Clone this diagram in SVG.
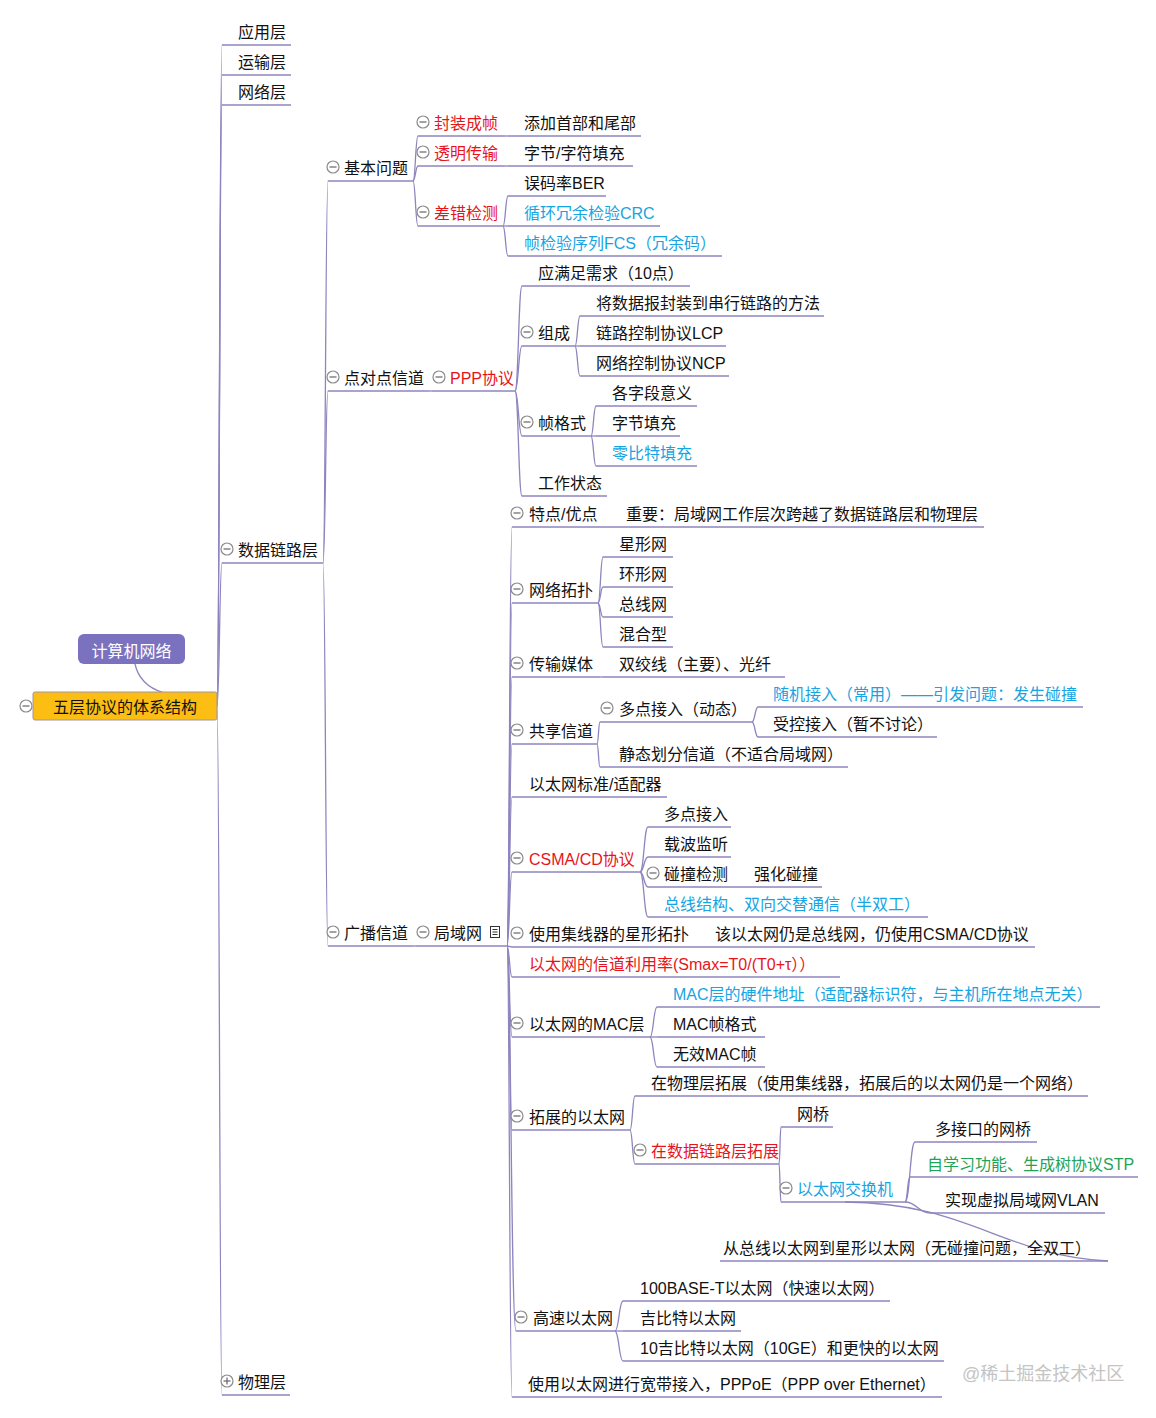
<svg xmlns="http://www.w3.org/2000/svg" width="1156" height="1418" viewBox="0 0 1156 1418">
<style>
text{font-family:"Liberation Sans","Noto Sans CJK SC",sans-serif;font-size:16px;fill:#111}
.r{fill:#E8141B}.b{fill:#17A4E2}.g{fill:#1FA457}
.u{stroke:#8C85BE;stroke-width:1.3;fill:none}
#connectors path{stroke:#8C85BE;stroke-width:1.3;fill:none}
.wm{font-size:18px;fill:#c4c4c4}
</style>
<defs>
<g id="m"><circle r="6" fill="#fff" stroke="#8a8a8a" stroke-width="1.2"/><line x1="-3.5" y1="0" x2="3.5" y2="0" stroke="#666" stroke-width="1.2"/></g>
<g id="p"><circle r="6" fill="#fff" stroke="#8a8a8a" stroke-width="1.2"/><line x1="-3.5" y1="0" x2="3.5" y2="0" stroke="#666" stroke-width="1.2"/><line x1="0" y1="-3.5" x2="0" y2="3.5" stroke="#666" stroke-width="1.2"/></g>
</defs>
<rect width="1156" height="1418" fill="#fff"/>

<g id="connectors">
<path d="M135 664 C138 678 148 688 162 692"/>
<path d="M217 706 C219.5 706 219.5 45 222 45"/>
<path d="M217 706 C219.5 706 219.5 75 222 75"/>
<path d="M217 706 C219.5 706 219.5 105 222 105"/>
<path d="M217 706 C219.5 706 219.5 563 222 563"/>
<path d="M217 706 C219.5 706 219.5 1395 222 1395"/>
<path d="M323 563 C325.5 563 325.5 181 328 181"/>
<path d="M323 563 C325.5 563 325.5 391 328 391"/>
<path d="M323 563 C325.5 563 325.5 946 328 946"/>
<path d="M413 181 C415.5 181 415.5 136 418 136"/>
<path d="M413 181 C415.5 181 415.5 166 418 166"/>
<path d="M413 181 C415.5 181 415.5 226 418 226"/>
<path d="M505 136 L508 136"/>
<path d="M505 166 L508 166"/>
<path d="M503 226 C505.5 226 505.5 196 508 196"/>
<path d="M503 226 L508 226"/>
<path d="M503 226 C505.5 226 505.5 256 508 256"/>
<path d="M429 391 L432 391"/>
<path d="M515 391 C518.5 391 518.5 286 522 286"/>
<path d="M515 391 C518.5 391 518.5 346 522 346"/>
<path d="M515 391 C518.5 391 518.5 436 522 436"/>
<path d="M515 391 C518.5 391 518.5 496 522 496"/>
<path d="M575 346 C577.5 346 577.5 316 580 316"/>
<path d="M575 346 L580 346"/>
<path d="M575 346 C577.5 346 577.5 376 580 376"/>
<path d="M591 436 C593.5 436 593.5 406 596 406"/>
<path d="M591 436 L596 436"/>
<path d="M591 436 C593.5 436 593.5 466 596 466"/>
<path d="M413 946 L416 946"/>
<path d="M507 946 C509.5 946 509.5 527 512 527"/>
<path d="M507 946 C509.5 946 509.5 603 512 603"/>
<path d="M507 946 C509.5 946 509.5 677 512 677"/>
<path d="M507 946 C509.5 946 509.5 744 512 744"/>
<path d="M507 946 C509.5 946 509.5 797 512 797"/>
<path d="M507 946 C509.5 946 509.5 872 512 872"/>
<path d="M507 946 L512 947"/>
<path d="M507 946 C509.5 946 509.5 977 512 977"/>
<path d="M507 946 C509.5 946 509.5 1037 512 1037"/>
<path d="M507 946 C509.5 946 509.5 1130 512 1130"/>
<path d="M507 946 C511 946 511 1331 516 1331"/>
<path d="M507 946 C509.5 946 509.5 1397 512 1397"/>
<path d="M608 527 L610 527"/>
<path d="M598 603 C600.5 603 600.5 557 603 557"/>
<path d="M598 603 C600.5 603 600.5 587 603 587"/>
<path d="M598 603 C600.5 603 600.5 617 603 617"/>
<path d="M598 603 C600.5 603 600.5 647 603 647"/>
<path d="M600 677 L603 677"/>
<path d="M597 744 C598.5 744 598.5 722 600 722"/>
<path d="M597 744 C598.5 744 598.5 767 600 767"/>
<path d="M752 722 C755 722 755 707 758 707"/>
<path d="M752 722 C755 722 755 737 758 737"/>
<path d="M640 872 C644 872 644 827 648 827"/>
<path d="M640 872 C644 872 644 857 648 857"/>
<path d="M640 872 C644 872 644 887 648 887"/>
<path d="M640 872 C644 872 644 917 648 917"/>
<path d="M738 887 L740 887"/>
<path d="M698 947 L700 947"/>
<path d="M650 1037 C653.5 1037 653.5 1007 657 1007"/>
<path d="M650 1037 L657 1037"/>
<path d="M650 1037 C653.5 1037 653.5 1067 657 1067"/>
<path d="M630 1130 C632.5 1130 632.5 1096 635 1096"/>
<path d="M630 1130 C632.5 1130 632.5 1164 635 1164"/>
<path d="M779 1164 C780 1164 780 1127 781 1127"/>
<path d="M779 1164 C780 1164 780 1202 781 1202"/>
<path d="M905 1202 C910 1202 910 1142 915 1142"/>
<path d="M905 1202 C907.5 1202 907.5 1177 910 1177"/>
<path d="M905 1202 C917 1202 918 1213 930 1213"/>
<path d="M845 1202 C970 1203 1000 1255 1108 1261"/>
<path d="M615 1331 C619 1331 619 1301 623 1301"/>
<path d="M615 1331 L623 1331"/>
<path d="M615 1331 C619 1331 619 1361 623 1361"/>
</g>

<g id="n-computer"><rect x="78" y="634" width="107" height="30" rx="6" fill="#7A72BE"/><text x="131.5" y="657" text-anchor="middle" style="fill:#fff">计算机网络</text></g>
<g id="n-root"><use href="#m" x="26" y="706"/><rect x="33" y="692" width="184" height="28" rx="2" fill="#FCBE12" stroke="#A294A0" stroke-width="1"/><text x="125" y="713" text-anchor="middle">五层协议的体系结构</text></g>

<g id="n-app"><line class="u" x1="222" y1="45" x2="291" y2="45"/><text x="238" y="38">应用层</text></g>
<g id="n-trans"><line class="u" x1="222" y1="75" x2="291" y2="75"/><text x="238" y="68">运输层</text></g>
<g id="n-net"><line class="u" x1="222" y1="105" x2="291" y2="105"/><text x="238" y="98">网络层</text></g>
<g id="n-dl"><line class="u" x1="222" y1="563" x2="323" y2="563"/><use href="#m" x="227" y="549"/><text x="238" y="556">数据链路层</text></g>
<g id="n-phy"><line class="u" x1="222" y1="1395" x2="290" y2="1395"/><use href="#p" x="227" y="1381"/><text x="238" y="1388">物理层</text></g>

<g id="n-basic"><line class="u" x1="328" y1="181" x2="413" y2="181"/><use href="#m" x="333" y="167"/><text x="344" y="174">基本问题</text></g>
<g id="n-p2p"><line class="u" x1="328" y1="391" x2="429" y2="391"/><use href="#m" x="333" y="377"/><text x="344" y="384">点对点信道</text></g>
<g id="n-bcast"><line class="u" x1="328" y1="946" x2="413" y2="946"/><use href="#m" x="333" y="932"/><text x="344" y="939">广播信道</text></g>

<g id="n-fr"><line class="u" x1="418" y1="136" x2="505" y2="136"/><use href="#m" x="423" y="122"/><text class="r" x="434" y="129">封装成帧</text></g>
<g id="n-fr1"><line class="u" x1="508" y1="136" x2="641" y2="136"/><text x="524" y="129">添加首部和尾部</text></g>
<g id="n-tt"><line class="u" x1="418" y1="166" x2="505" y2="166"/><use href="#m" x="423" y="152"/><text class="r" x="434" y="159">透明传输</text></g>
<g id="n-tt1"><line class="u" x1="508" y1="166" x2="633" y2="166"/><text x="524" y="159">字节/字符填充</text></g>
<g id="n-ed"><line class="u" x1="418" y1="226" x2="503" y2="226"/><use href="#m" x="423" y="212"/><text class="r" x="434" y="219">差错检测</text></g>
<g id="n-ed1"><line class="u" x1="508" y1="196" x2="606" y2="196"/><text x="524" y="189">误码率BER</text></g>
<g id="n-ed2"><line class="u" x1="508" y1="226" x2="660" y2="226"/><text class="b" x="524" y="219">循环冗余检验CRC</text></g>
<g id="n-ed3"><line class="u" x1="508" y1="256" x2="722" y2="256"/><text class="b" x="524" y="249">帧检验序列FCS（冗余码）</text></g>

<g id="n-ppp"><line class="u" x1="432" y1="391" x2="515" y2="391"/><use href="#m" x="439" y="377"/><text class="r" x="450" y="384">PPP协议</text></g>
<g id="n-req"><line class="u" x1="522" y1="286" x2="690" y2="286"/><text x="538" y="279">应满足需求（10点）</text></g>
<g id="n-zc"><line class="u" x1="522" y1="346" x2="575" y2="346"/><use href="#m" x="527" y="332"/><text x="538" y="339">组成</text></g>
<g id="n-zc1"><line class="u" x1="580" y1="316" x2="824" y2="316"/><text x="596" y="309">将数据报封装到串行链路的方法</text></g>
<g id="n-zc2"><line class="u" x1="580" y1="346" x2="726" y2="346"/><text x="596" y="339">链路控制协议LCP</text></g>
<g id="n-zc3"><line class="u" x1="580" y1="376" x2="729" y2="376"/><text x="596" y="369">网络控制协议NCP</text></g>
<g id="n-zgs"><line class="u" x1="522" y1="436" x2="591" y2="436"/><use href="#m" x="527" y="422"/><text x="538" y="429">帧格式</text></g>
<g id="n-zgs1"><line class="u" x1="596" y1="406" x2="697" y2="406"/><text x="612" y="399">各字段意义</text></g>
<g id="n-zgs2"><line class="u" x1="596" y1="436" x2="680" y2="436"/><text x="612" y="429">字节填充</text></g>
<g id="n-zgs3"><line class="u" x1="596" y1="466" x2="697" y2="466"/><text class="b" x="612" y="459">零比特填充</text></g>
<g id="n-ws"><line class="u" x1="522" y1="496" x2="607" y2="496"/><text x="538" y="489">工作状态</text></g>

<g id="n-lan"><line class="u" x1="416" y1="946" x2="507" y2="946"/><use href="#m" x="423" y="932"/><text x="434" y="939">局域网</text>
<rect x="490.5" y="926.5" width="9" height="11" fill="#fff" stroke="#333" stroke-width="1"/><line x1="492.5" y1="929.5" x2="497.5" y2="929.5" stroke="#333"/><line x1="492.5" y1="932" x2="497.5" y2="932" stroke="#333"/><line x1="492.5" y1="934.5" x2="497.5" y2="934.5" stroke="#333"/></g>
<g id="n-td"><line class="u" x1="512" y1="527" x2="608" y2="527"/><use href="#m" x="517" y="513"/><text x="529" y="520">特点/优点</text></g>
<g id="n-td1"><line class="u" x1="610" y1="527" x2="984" y2="527"/><text x="626" y="520">重要：局域网工作层次跨越了数据链路层和物理层</text></g>
<g id="n-tp"><line class="u" x1="512" y1="603" x2="598" y2="603"/><use href="#m" x="517" y="589"/><text x="529" y="596">网络拓扑</text></g>
<g id="n-tp1"><line class="u" x1="603" y1="557" x2="673" y2="557"/><text x="619" y="550">星形网</text></g>
<g id="n-tp2"><line class="u" x1="603" y1="587" x2="673" y2="587"/><text x="619" y="580">环形网</text></g>
<g id="n-tp3"><line class="u" x1="603" y1="617" x2="673" y2="617"/><text x="619" y="610">总线网</text></g>
<g id="n-tp4"><line class="u" x1="603" y1="647" x2="673" y2="647"/><text x="619" y="640">混合型</text></g>
<g id="n-mt"><line class="u" x1="512" y1="677" x2="600" y2="677"/><use href="#m" x="517" y="663"/><text x="529" y="670">传输媒体</text></g>
<g id="n-mt1"><line class="u" x1="603" y1="677" x2="785" y2="677"/><text x="619" y="670">双绞线（主要）、光纤</text></g>
<g id="n-sc"><line class="u" x1="512" y1="744" x2="597" y2="744"/><use href="#m" x="517" y="730"/><text x="529" y="737">共享信道</text></g>
<g id="n-md"><line class="u" x1="600" y1="722" x2="752" y2="722"/><use href="#m" x="607" y="708"/><text x="619" y="715">多点接入（动态）</text></g>
<g id="n-md1"><line class="u" x1="758" y1="707" x2="1083" y2="707"/><text class="b" x="773" y="700">随机接入（常用）——引发问题：发生碰撞</text></g>
<g id="n-md2"><line class="u" x1="758" y1="737" x2="937" y2="737"/><text x="773" y="730">受控接入（暂不讨论）</text></g>
<g id="n-sc2"><line class="u" x1="600" y1="767" x2="848" y2="767"/><text x="619" y="760">静态划分信道（不适合局域网）</text></g>
<g id="n-std"><line class="u" x1="512" y1="797" x2="667" y2="797"/><text x="529" y="790">以太网标准/适配器</text></g>
<g id="n-csma"><line class="u" x1="512" y1="872" x2="640" y2="872"/><use href="#m" x="517" y="858"/><text class="r" x="529" y="865">CSMA/CD协议</text></g>
<g id="n-cs1"><line class="u" x1="648" y1="827" x2="731" y2="827"/><text x="664" y="820">多点接入</text></g>
<g id="n-cs2"><line class="u" x1="648" y1="857" x2="731" y2="857"/><text x="664" y="850">载波监听</text></g>
<g id="n-cd"><line class="u" x1="648" y1="887" x2="738" y2="887"/><use href="#m" x="653" y="873"/><text x="664" y="880">碰撞检测</text></g>
<g id="n-cd1"><line class="u" x1="740" y1="887" x2="822" y2="887"/><text x="754" y="880">强化碰撞</text></g>
<g id="n-cs4"><line class="u" x1="648" y1="917" x2="928" y2="917"/><text class="b" x="664" y="910">总线结构、双向交替通信（半双工）</text></g>
<g id="n-hub"><line class="u" x1="512" y1="947" x2="698" y2="947"/><use href="#m" x="517" y="933"/><text x="529" y="940">使用集线器的星形拓扑</text></g>
<g id="n-hub1"><line class="u" x1="700" y1="947" x2="1035" y2="947"/><text x="715" y="940">该以太网仍是总线网，仍使用CSMA/CD协议</text></g>
<g id="n-util"><line class="u" x1="512" y1="977" x2="840" y2="977"/><text class="r" x="529" y="970">以太网的信道利用率(Smax=T0/(T0+τ））</text></g>
<g id="n-mac"><line class="u" x1="512" y1="1037" x2="650" y2="1037"/><use href="#m" x="517" y="1023"/><text x="529" y="1030">以太网的MAC层</text></g>
<g id="n-mac1"><line class="u" x1="657" y1="1007" x2="1100" y2="1007"/><text class="b" x="673" y="1000">MAC层的硬件地址（适配器标识符，与主机所在地点无关）</text></g>
<g id="n-mac2"><line class="u" x1="657" y1="1037" x2="765" y2="1037"/><text x="673" y="1030">MAC帧格式</text></g>
<g id="n-mac3"><line class="u" x1="657" y1="1067" x2="765" y2="1067"/><text x="673" y="1060">无效MAC帧</text></g>
<g id="n-ext"><line class="u" x1="512" y1="1130" x2="630" y2="1130"/><use href="#m" x="517" y="1116"/><text x="529" y="1123">拓展的以太网</text></g>
<g id="n-ext1"><line class="u" x1="635" y1="1096" x2="1088" y2="1096"/><text x="651" y="1089">在物理层拓展（使用集线器，拓展后的以太网仍是一个网络）</text></g>
<g id="n-dle"><line class="u" x1="635" y1="1164" x2="779" y2="1164"/><use href="#m" x="640" y="1150"/><text class="r" x="651" y="1157">在数据链路层拓展</text></g>
<g id="n-br"><line class="u" x1="781" y1="1127" x2="833" y2="1127"/><text x="797" y="1120">网桥</text></g>
<g id="n-sw"><line class="u" x1="781" y1="1202" x2="905" y2="1202"/><use href="#m" x="786" y="1188"/><text class="b" x="797" y="1195">以太网交换机</text></g>
<g id="n-sw1"><line class="u" x1="915" y1="1142" x2="1037" y2="1142"/><text x="935" y="1135">多接口的网桥</text></g>
<g id="n-sw2"><line class="u" x1="910" y1="1177" x2="1138" y2="1177"/><text class="g" x="927" y="1170">自学习功能、生成树协议STP</text></g>
<g id="n-sw3"><line class="u" x1="930" y1="1213" x2="1105" y2="1213"/><text x="945" y="1206">实现虚拟局域网VLAN</text></g>
<g id="n-sw4"><line class="u" x1="720" y1="1261" x2="1108" y2="1261"/><text x="723" y="1254">从总线以太网到星形以太网（无碰撞问题，全双工）</text></g>
<g id="n-hs"><line class="u" x1="516" y1="1331" x2="615" y2="1331"/><use href="#m" x="521" y="1317"/><text x="533" y="1324">高速以太网</text></g>
<g id="n-hs1"><line class="u" x1="623" y1="1301" x2="890" y2="1301"/><text x="640" y="1294">100BASE-T以太网（快速以太网）</text></g>
<g id="n-hs2"><line class="u" x1="623" y1="1331" x2="741" y2="1331"/><text x="640" y="1324">吉比特以太网</text></g>
<g id="n-hs3"><line class="u" x1="623" y1="1361" x2="944" y2="1361"/><text x="640" y="1354">10吉比特以太网（10GE）和更快的以太网</text></g>
<g id="n-pppoe"><line class="u" x1="512" y1="1397" x2="942" y2="1397"/><text x="528" y="1390">使用以太网进行宽带接入，PPPoE（PPP over Ethernet）</text></g>

<text class="wm" x="962" y="1380">@稀土掘金技术社区</text>
</svg>
